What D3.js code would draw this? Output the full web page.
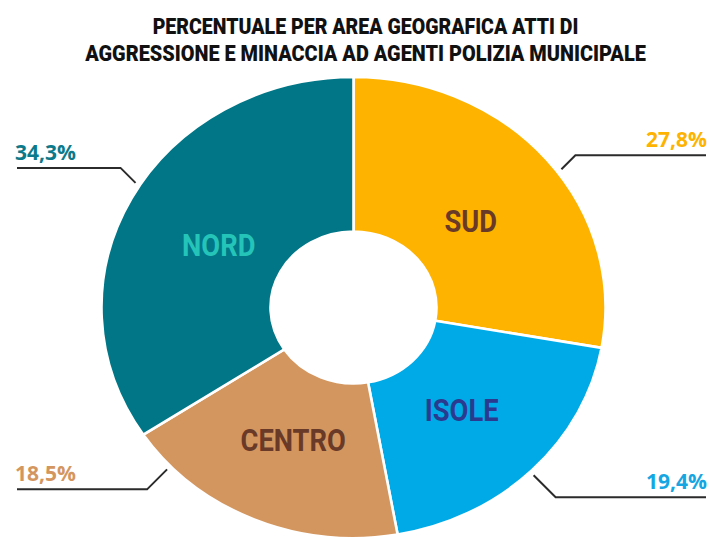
<!DOCTYPE html>
<html>
<head>
<meta charset="utf-8">
<script src="https://cdn.jsdelivr.net/npm/d3@7"></script>
<style>
  html, body { margin: 0; padding: 0; background: #fff; }
  svg { display: block; }
</style>
</head>
<body>
<svg id="chart"></svg>
<script>
// data
const regions = ["SUD", "ISOLE", "CENTRO", "NORD"];
const shares = [27.8, 19.4, 18.5, 34.3];
const shareLabels = ["27,8%", "19,4%", "18,5%", "34,3%"];
const titleLines = [
  "PERCENTUALE PER AREA GEOGRAFICA ATTI DI",
  "AGGRESSIONE E MINACCIA AD AGENTI POLIZIA MUNICIPALE"
];

// styling / layout
const fills = { SUD: "#fdb300", ISOLE: "#00aae7", CENTRO: "#d4965f", NORD: "#007686" };
const nameColors = { SUD: "#6a3a28", ISOLE: "#2b3a8f", CENTRO: "#6a3a28", NORD: "#25c4b9" };
const pctColors = { SUD: "#fdb300", ISOLE: "#16a6e2", CENTRO: "#d4965f", NORD: "#0c7a8a" };
// where the leader lines leave the ring (degrees clockwise from top) and elbow length
const leaders = {
  SUD: { angle: 54, elbow: 14 },
  ISOLE: { angle: 135.5, elbow: 22 },
  CENTRO: { angle: 226.5, elbow: 20 },
  NORD: { angle: 302, elbow: 15 }
};

const width = 710, height = 539;
const cx = 353.5, cy = 307.5;
const rOuter = 252, rInner = 83, squash = 0.915;

const svg = d3.select("#chart")
  .attr("width", width)
  .attr("height", height);

// title, squeezed horizontally to the reference's condensed widths
const titleWidths = [426, 561];
svg.append("g")
  .selectAll("text")
  .data(titleLines)
  .join("text")
  .attr("text-anchor", "middle")
  .attr("font-family", "Roboto, sans-serif")
  .attr("font-weight", 900)
  .attr("font-size", 22)
  .attr("fill", "#111")
  .text(d => d)
  .attr("transform", function(d, i) {
    const w = this.getComputedTextLength();
    return `translate(365.5,${34 + i * 27}) scale(${titleWidths[i] / w},1)`;
  });

const data = regions.map((r, i) => ({ region: r, value: shares[i], label: shareLabels[i] }));

const pie = d3.pie()
  .sort(null)
  .value(d => d.value)
  .startAngle(0)
  .endAngle(2 * Math.PI);

const arcs = pie(data);

const arc = d3.arc()
  .innerRadius(rInner)
  .outerRadius(rOuter);

const ring = svg.append("g")
  .attr("transform", `translate(${cx},${cy}) scale(1,${squash})`);

ring.selectAll("path")
  .data(arcs)
  .join("path")
  .attr("d", arc)
  .attr("fill", d => fills[d.data.region])
  .attr("stroke", "#fff")
  .attr("stroke-width", 2.6)
  .attr("vector-effect", "non-scaling-stroke");

// region names inside the ring
const labelArc = d3.arc().innerRadius(153).outerRadius(153);
svg.append("g")
  .selectAll("text")
  .data(arcs)
  .join("text")
  .attr("transform", d => {
    const [x, y] = labelArc.centroid(d);
    return `translate(${cx + x},${cy + y * squash}) scale(0.88,1)`;
  })
  .attr("text-anchor", "middle")
  .attr("dy", "0.48em")
  .attr("font-family", "Roboto, sans-serif")
  .attr("font-weight", "bold")
  .attr("font-size", 31)
  .attr("fill", d => nameColors[d.data.region])
  .text(d => d.data.region);

// leader lines + percentages
const ang = d => leaders[d.data.region].angle * Math.PI / 180;
const rLead = 257;
const leaderPts = d => {
  const a = ang(d);
  const x0 = cx + rLead * Math.sin(a);
  const y0 = cy - rLead * squash * Math.cos(a);
  const right = Math.sin(a) > 0;
  const down = Math.cos(a) < 0;
  const e = leaders[d.data.region].elbow;
  const x1 = x0 + (right ? e : -e);
  const y1 = y0 + (down ? e : -e);
  const x2 = right ? 706 : 17;
  return { pts: [[x0, y0], [x1, y1], [x2, y1]], right, y: y1 };
};

const lead = svg.append("g");
lead.selectAll("path")
  .data(arcs)
  .join("path")
  .attr("d", d => d3.line()(leaderPts(d).pts))
  .attr("fill", "none")
  .attr("stroke", "#2b2b2b")
  .attr("stroke-width", 2);

lead.selectAll("text")
  .data(arcs)
  .join("text")
  .attr("x", d => leaderPts(d).right ? 707 : 15)
  .attr("y", d => leaderPts(d).y - 8)
  .attr("text-anchor", d => leaderPts(d).right ? "end" : "start")
  .attr("font-family", "'Open Sans', sans-serif")
  .attr("font-weight", "bold")
  .attr("font-size", 21)
  .attr("fill", d => pctColors[d.data.region])
  .text(d => d.data.label);
</script>
</body>
</html>
